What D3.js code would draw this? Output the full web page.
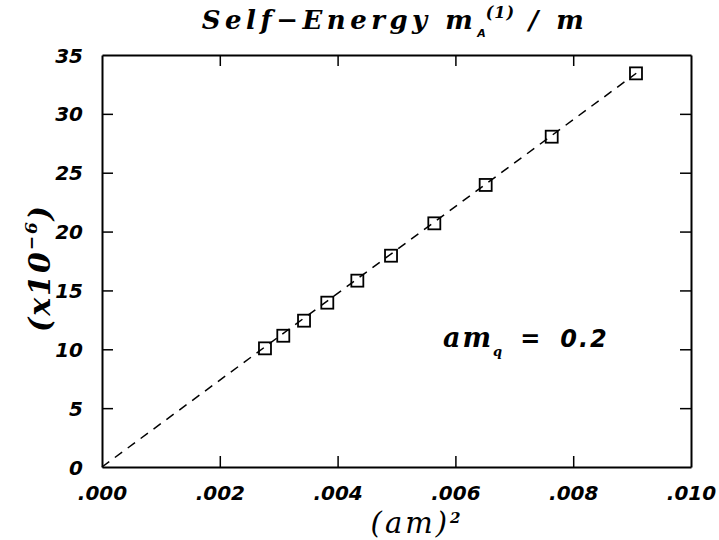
<!DOCTYPE html>
<html><head><meta charset="utf-8">
<script src="https://cdn.jsdelivr.net/npm/d3@7"></script>
<style>html,body{margin:0;padding:0;background:#fff;} text{white-space:pre;}</style>
</head><body>
<svg id="c" width="719" height="540"></svg>
<script>
const xValues = [0.002767, 0.003078, 0.003430, 0.003825, 0.004335, 0.004907, 0.005642, 0.006514, 0.007635, 0.009066];
const yValues = [10.08, 11.15, 12.43, 13.96, 15.83, 17.95, 20.70, 23.96, 28.06, 33.44];
const fitX = [0, 0.00907];
const fitY = [0, 33.45];
const xTicks = [0, 0.002, 0.004, 0.006, 0.008, 0.010];
const xTickLabels = [".000", ".002", ".004", ".006", ".008", ".010"];
const yTicks = [0, 5, 10, 15, 20, 25, 30, 35];
const yTickLabels = ["0", "5", "10", "15", "20", "25", "30", "35"];

const svg = d3.select("#c");
const L = 102, R = 691, T = 55, B = 467;
const x = d3.scaleLinear().domain([0, 0.010]).range([L, R]);
const y = d3.scaleLinear().domain([0, 35]).range([B, T]);
const tickLen = 11;
const tickFont = "'DejaVu Sans', sans-serif";
const serif = "'DejaVu Serif', serif";

const gB = svg.append("g").attr("transform", `translate(0,${B})`)
  .call(d3.axisBottom(x).tickValues(xTicks).tickFormat((d,i)=>xTickLabels[i]).tickSizeInner(-tickLen).tickSizeOuter(0));
const gT = svg.append("g").attr("transform", `translate(0,${T})`)
  .call(d3.axisTop(x).tickValues(xTicks).tickFormat("").tickSizeInner(-tickLen).tickSizeOuter(0));
const gL = svg.append("g").attr("transform", `translate(${L},0)`)
  .call(d3.axisLeft(y).tickValues(yTicks).tickFormat((d,i)=>yTickLabels[i]).tickSizeInner(-tickLen).tickSizeOuter(0));
const gR = svg.append("g").attr("transform", `translate(${R},0)`)
  .call(d3.axisRight(y).tickValues(yTicks).tickFormat("").tickSizeInner(-tickLen).tickSizeOuter(0));
[gB,gT,gL,gR].forEach(g=>{
  g.select(".domain").attr("stroke","#000").attr("stroke-width",2);
  g.selectAll(".tick line").attr("stroke","#000").attr("stroke-width",1.5);
  g.selectAll("text").attr("fill","#000").style("font-family",tickFont)
   .style("font-size","20px").style("font-weight","bold").style("font-style","italic");
});
[gB,gT].forEach(g=>g.selectAll(".tick line").filter(d=>d===0||d===0.010).remove());
[gL,gR].forEach(g=>g.selectAll(".tick line").filter(d=>d===0||d===35).remove());
gL.selectAll("text").attr("dy","0.35em").attr("x", -19);
gB.selectAll("text").attr("dy", 0).attr("y", 33);

const line = d3.line().x(d=>x(d[0])).y(d=>y(d[1]));
svg.append("path").datum(fitX.map((v,i)=>[v,fitY[i]]))
  .attr("d", line).attr("fill","none").attr("stroke","#000")
  .attr("stroke-width",1.5).attr("stroke-dasharray","9,7");

const s = 12;
svg.append("g").selectAll("rect").data(xValues.map((v,i)=>[v,yValues[i]])).join("rect")
  .attr("x", d=>x(d[0])-s/2).attr("y", d=>y(d[1])-s/2)
  .attr("width", s).attr("height", s)
  .attr("fill","none").attr("stroke","#000").attr("stroke-width",1.8);

// title
const title = svg.append("text").attr("x", 395).attr("y", 29).attr("text-anchor","middle")
  .style("font-family", serif).style("font-size","26px").style("font-weight","bold")
  .style("font-style","italic").style("letter-spacing","4.5px").attr("fill","#000");
title.append("tspan").text("Self\u2212Energy m");
title.append("tspan").attr("dy", 8).style("font-size","11px").style("letter-spacing","0px").style("font-family",tickFont).text("A");
title.append("tspan").attr("dy", -19).style("font-size","16px").style("letter-spacing","1px").text("(1)");
title.append("tspan").attr("dy", 11).text(" / m");

// y label
const yl = svg.append("text").attr("transform","translate(50,268) rotate(-90)")
  .attr("text-anchor","middle").style("font-family", serif).style("font-size","30px")
  .style("font-weight","bold").style("font-style","italic").style("letter-spacing","2px").attr("fill","#000");
yl.append("tspan").text("(x10");
yl.append("tspan").attr("dy",-13).style("font-size","17px").text("\u22126");
yl.append("tspan").attr("dy",13).text(")");

// x label
const xl = svg.append("text").attr("x", 417).attr("y", 533).attr("text-anchor","middle")
  .style("font-family", serif).style("font-size","29px").style("font-style","italic").style("letter-spacing","3px").attr("fill","#000");
xl.append("tspan").text("(am)");
xl.append("tspan").attr("dy",-10).style("font-size","15px").style("font-weight","bold").text("2");

// annotation
const an = svg.append("text").attr("x", 443).attr("y", 347)
  .style("font-family", serif).style("font-size","27px").style("font-weight","bold")
  .style("font-style","italic").style("letter-spacing","2px").attr("fill","#000");
an.append("tspan").text("am");
an.append("tspan").attr("dy",9).style("font-size","13px").text("q");
an.append("tspan").attr("dy",-9).attr("dx",16).style("font-family",tickFont).style("font-size","24px").text("=");
an.append("tspan").attr("dx",18).style("font-family",tickFont).style("font-size","24px").text("0.2");
</script>
</body></html>
